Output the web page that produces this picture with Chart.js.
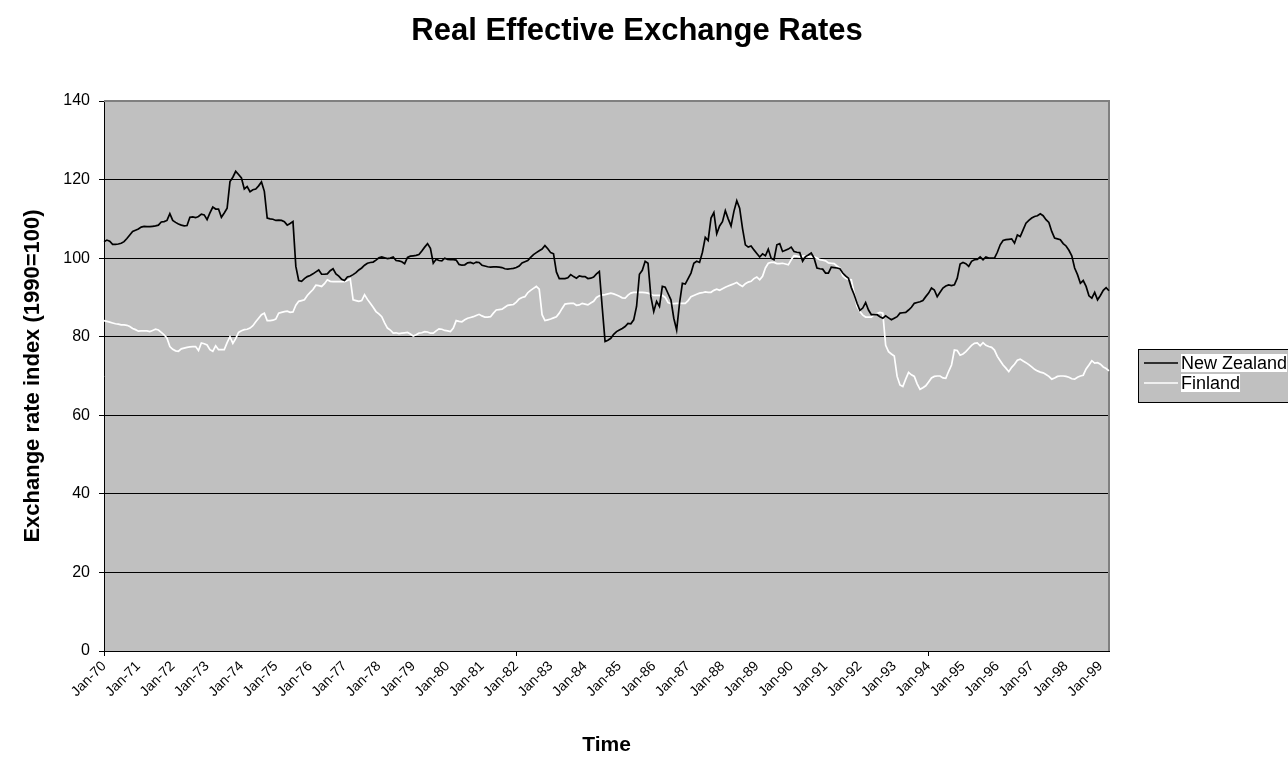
<!DOCTYPE html>
<html>
<head>
<meta charset="utf-8">
<script src="https://cdn.jsdelivr.net/npm/chart.js@4.4.0/dist/chart.umd.min.js"></script>
<style>
  html, body { margin:0; padding:0; background:#ffffff; }
  #wrap { position:relative; width:1288px; height:758px; overflow:hidden; }
  canvas { display:block; }
</style>
</head>
<body>
<div id="wrap"><canvas id="c" width="1288" height="758"></canvas></div>
<script>
// ---- categories ----
const monthNames = ['Jan','Feb','Mar','Apr','May','Jun','Jul','Aug','Sep','Oct','Nov','Dec'];
const years = [70,71,72,73,74,75,76,77,78,79,80,81,82,83,84,85,86,87,88,89,90,91,92,93,94,95,96,97,98,99];
const lastYearMonths = 4; // Jan-99 .. Apr-99

// ---- series values (monthly) ----
const newZealand = [
  104.2,104.6,104.3,103.5,103.5,103.6,103.8,104.2,105.0,105.9,106.8,107.1,
  107.4,107.9,108.1,108.0,108.0,108.1,108.2,108.4,109.2,109.3,109.6,111.3,
  109.6,109.1,108.7,108.4,108.2,108.3,110.4,110.5,110.3,110.6,111.2,111.0,
  109.8,111.5,113.0,112.5,112.5,110.4,111.5,112.7,119.5,120.6,122.1,121.3,
  120.4,117.6,118.2,116.9,117.4,117.6,118.4,119.4,117.0,110.2,110.0,109.9,
  109.6,109.7,109.6,109.3,108.4,108.8,109.3,97.9,94.3,94.1,94.8,95.3,
  95.6,96.0,96.5,97.0,95.9,95.9,96.0,96.8,97.3,96.0,95.4,94.6,
  94.3,95.2,95.4,95.8,96.3,97.0,97.5,98.2,98.7,98.9,99.0,99.5,
  100.1,100.3,100.1,99.9,100.0,100.3,99.4,99.3,99.1,98.6,100.2,100.5,
  100.6,100.7,100.9,101.8,102.8,103.7,102.5,98.7,99.7,99.4,99.3,100.0,
  99.7,99.6,99.6,99.5,98.4,98.2,98.3,98.8,98.9,98.6,99.0,98.9,
  98.2,98.0,97.8,97.7,97.8,97.8,97.7,97.6,97.3,97.2,97.3,97.4,
  97.6,98.0,98.8,99.1,99.4,100.2,100.9,101.4,101.9,102.3,103.2,102.4,
  101.4,101.1,96.5,94.8,94.8,94.8,95.0,95.8,95.3,94.9,95.5,95.3,
  95.3,94.8,94.9,95.2,96.0,96.6,87.5,78.8,79.1,79.6,80.6,81.3,
  81.7,82.1,82.6,83.4,83.3,84.3,87.7,95.9,96.9,99.2,98.7,90.2,
  86.4,89.0,87.7,92.8,92.6,91.0,89.4,84.7,81.7,88.5,93.6,93.4,
  94.8,96.2,98.7,99.2,98.9,101.5,105.3,104.5,110.2,111.6,106.2,108.2,
  109.3,112.1,110.0,108.2,111.9,114.6,112.7,107.6,103.4,102.8,103.1,102.1,
  101.2,100.3,101.1,100.6,102.3,100.0,99.6,103.4,103.7,101.7,102.0,102.3,
  102.8,101.7,101.5,101.4,99.2,100.4,100.8,101.3,100.0,97.5,97.3,97.2,
  96.2,96.2,97.7,97.6,97.5,97.3,96.2,95.5,94.9,92.5,90.7,88.5,
  86.7,87.3,88.7,86.8,85.6,85.6,85.6,85.1,84.7,85.3,84.8,84.3,
  84.7,85.1,86.0,86.1,86.2,86.8,87.5,88.5,88.7,88.9,89.2,90.2,
  91.1,92.4,91.9,90.2,91.3,92.4,92.9,93.2,93.0,93.2,94.9,98.5,
  98.9,98.6,97.9,99.2,99.6,99.7,100.3,99.6,100.3,100.0,100.0,100.0,
  101.5,103.4,104.5,104.7,104.8,104.9,103.8,105.9,105.5,107.2,108.9,109.6,
  110.2,110.6,110.8,111.3,110.8,109.8,109.1,106.8,105.1,104.9,104.7,103.7,
  103.1,102.0,100.6,97.5,95.8,93.6,94.3,92.8,90.4,89.8,91.3,89.4,
  90.5,91.8,92.5,91.7
];

const finland = [
  84.1,83.9,83.7,83.5,83.3,83.2,83.0,83.0,82.9,82.6,82.1,81.8,
  81.4,81.5,81.5,81.5,81.3,81.6,81.9,81.7,81.1,80.5,79.6,77.5,
  76.8,76.4,76.3,76.9,77.1,77.3,77.4,77.5,77.5,76.5,78.4,78.2,
  77.9,76.7,76.3,77.7,76.7,76.7,76.7,78.5,80.0,78.3,79.5,81.1,
  81.5,81.8,81.9,82.2,82.8,83.8,84.7,85.6,86.0,84.1,84.1,84.2,
  84.5,86.0,86.2,86.4,86.5,86.2,86.3,88.0,89.0,89.2,89.4,90.5,
  91.3,92.0,93.1,93.0,92.8,93.5,94.5,94.1,94.0,94.0,94.0,94.0,
  94.0,94.3,94.7,89.4,89.2,89.0,89.2,90.7,89.5,88.5,87.5,86.4,
  85.8,85.1,83.5,82.2,81.7,80.9,81.0,80.8,80.9,81.0,81.1,80.7,
  80.2,80.5,80.9,81.0,81.3,81.2,80.9,80.9,81.5,82.0,81.9,81.6,
  81.5,81.3,82.2,84.1,83.9,83.8,84.3,84.7,84.9,85.1,85.4,85.7,
  85.3,85.0,85.0,85.1,86.0,86.8,86.9,87.0,87.5,88.0,88.1,88.2,
  88.8,89.6,90.0,90.2,91.2,91.8,92.3,92.8,92.1,85.6,84.1,84.3,
  84.5,84.8,85.1,86.0,87.2,88.3,88.4,88.5,88.5,88.0,88.1,88.5,
  88.3,88.1,88.6,89.0,90.0,90.4,90.6,90.7,90.9,91.1,90.9,90.6,
  90.3,89.9,89.8,90.6,91.1,91.3,91.3,91.3,91.3,91.2,91.1,90.8,
  90.5,90.5,90.5,90.5,90.0,88.7,88.4,88.4,88.5,88.5,88.5,88.5,
  89.2,90.2,90.5,90.8,91.1,91.2,91.4,91.3,91.3,91.8,92.1,91.8,
  92.2,92.6,92.9,93.2,93.5,93.8,93.2,92.8,93.5,93.9,94.1,94.8,
  95.2,94.5,95.4,97.5,98.7,98.9,98.9,98.6,98.6,98.7,98.5,98.3,
  99.6,100.6,100.5,100.3,100.5,100.6,100.4,100.3,100.3,100.0,99.6,99.5,
  99.3,98.8,98.7,98.6,98.0,97.5,95.5,94.9,94.6,94.5,91.1,87.7,
  86.4,85.5,85.0,85.0,85.0,85.6,85.9,86.2,86.0,77.8,76.2,75.6,
  75.1,69.9,67.7,67.3,69.2,70.9,70.3,69.9,68.0,66.6,67.0,67.5,
  68.5,69.5,69.9,70.0,70.0,69.5,69.4,71.2,72.8,76.6,76.5,75.3,
  75.6,76.2,77.0,77.8,78.3,78.4,77.7,78.5,77.8,77.5,77.3,76.6,
  75.0,73.9,72.8,72.0,71.1,72.2,73.0,74.0,74.3,73.8,73.4,72.9,
  72.3,71.7,71.3,71.0,70.8,70.4,69.9,69.2,69.5,69.9,70.0,70.0,
  69.9,69.7,69.3,69.2,69.7,70.0,70.2,71.8,72.8,73.9,73.3,73.4,
  73.0,72.3,71.9,71.3
];

// ---- y tick values ----
const yMin = 0, yMax = 140, yStep = 20;

// build month labels
const labels = [];
years.forEach((y, yi) => {
  const n = (yi === years.length - 1) ? lastYearMonths : 12;
  for (let m = 0; m < n; m++) labels.push(monthNames[m] + '-' + String(y).padStart(2, '0'));
});

const FONT = '"Liberation Sans", Arial, Helvetica, sans-serif';

const decorPlugin = {
  id: 'decor',
  beforeDraw(chart) {
    const { ctx, chartArea: a } = chart;
    ctx.save();
    ctx.fillStyle = '#ffffff';
    ctx.fillRect(0, 0, chart.width, chart.height);
    ctx.fillStyle = '#c0c0c0';
    ctx.fillRect(a.left, a.top, a.right - a.left, a.bottom - a.top);
    ctx.restore();
  },
  beforeDatasetsDraw(chart) {
    const { ctx, chartArea: a } = chart;
    ctx.save();
    ctx.strokeStyle = '#808080';
    ctx.lineWidth = 2;
    ctx.beginPath();
    ctx.moveTo(a.left, a.top);
    ctx.lineTo(a.right, a.top);
    ctx.lineTo(a.right, a.bottom);
    ctx.stroke();
    ctx.restore();
  },
  afterDraw(chart) {
    const { ctx } = chart;
    ctx.save();
    // main title
    ctx.fillStyle = '#000';
    ctx.font = 'bold 31px ' + FONT;
    ctx.textAlign = 'center';
    ctx.textBaseline = 'alphabetic';
    ctx.fillText('Real Effective Exchange Rates', 637, 40);

    // legend
    const bx = 1138.5, by = 349.5, bw = 170, bh = 53;
    ctx.fillStyle = '#c0c0c0';
    ctx.fillRect(bx, by, bw, bh);
    ctx.strokeStyle = '#000';
    ctx.lineWidth = 1;
    ctx.strokeRect(bx, by, bw, bh);
    ctx.font = '18px ' + FONT;
    ctx.textAlign = 'left';
    ctx.textBaseline = 'middle';
    const rows = [363, 383];
    chart.data.datasets.forEach((ds, i) => {
      const y = rows[i];
      ctx.strokeStyle = ds.borderColor;
      ctx.lineWidth = 1.6;
      ctx.beginPath();
      ctx.moveTo(1144, y);
      ctx.lineTo(1178, y);
      ctx.stroke();
      const w = ctx.measureText(ds.label).width;
      ctx.fillStyle = '#ffffff';
      ctx.fillRect(1181, y - 9, w, 18);
      ctx.fillStyle = '#000';
      ctx.fillText(ds.label, 1181, y + 1);
    });
    ctx.restore();
  }
};

new Chart(document.getElementById('c'), {
  type: 'line',
  data: {
    labels: labels,
    datasets: [
      { label: 'New Zealand', data: newZealand, borderColor: '#000000', borderWidth: 1.7,
        pointRadius: 0, pointHoverRadius: 0, tension: 0, fill: false },
      { label: 'Finland', data: finland, borderColor: '#ffffff', borderWidth: 1.7,
        pointRadius: 0, pointHoverRadius: 0, tension: 0, fill: false }
    ]
  },
  options: {
    responsive: false,
    animation: false,
    devicePixelRatio: 1,
    layout: { padding: { left: 0, right: 179, top: 101, bottom: 0 } },
    plugins: {
      legend: { display: false },
      title: { display: false },
      tooltip: { enabled: false }
    },
    scales: {
      x: {
        type: 'category',
        offset: false,
        afterFit(scale) { scale.height = 107; },
        grid: {
          drawOnChartArea: false,
          drawTicks: true,
          tickLength: 5,
          tickColor: (c) => (c.index % 12 === 0 ? '#000000' : 'rgba(0,0,0,0)'),
          color: 'rgba(0,0,0,0)'
        },
        border: { display: true, color: '#000000', width: 1 },
        ticks: {
          autoSkip: false,
          maxRotation: 45,
          minRotation: 45,
          padding: 2,
          color: '#000000',
          font: { family: FONT, size: 14 },
          callback: function (v, i) { return i % 12 === 0 ? labels[i] : null; }
        },
        title: {
          display: true,
          text: 'Time',
          color: '#000000',
          font: { family: FONT, size: 21, weight: 'bold' },
          padding: { top: 0, bottom: 0 }
        }
      },
      y: {
        min: yMin,
        max: yMax,
        afterFit(scale) { scale.width = 104; },
        grid: {
          drawOnChartArea: true,
          drawTicks: true,
          tickLength: 5,
          tickColor: '#000000',
          color: (c) => (c.tick && (c.tick.value === yMin || c.tick.value === yMax) ? 'rgba(0,0,0,0)' : '#000000'),
          lineWidth: 1
        },
        border: { display: true, color: '#000000', width: 1 },
        ticks: {
          stepSize: yStep,
          padding: 9,
          color: '#000000',
          font: { family: FONT, size: 16 }
        },
        title: {
          display: true,
          text: 'Exchange rate index (1990=100)',
          color: '#000000',
          font: { family: FONT, size: 22, weight: 'bold' },
          padding: { top: 20, bottom: 0 }
        }
      }
    }
  },
  plugins: [decorPlugin]
});
</script>
</body>
</html>
